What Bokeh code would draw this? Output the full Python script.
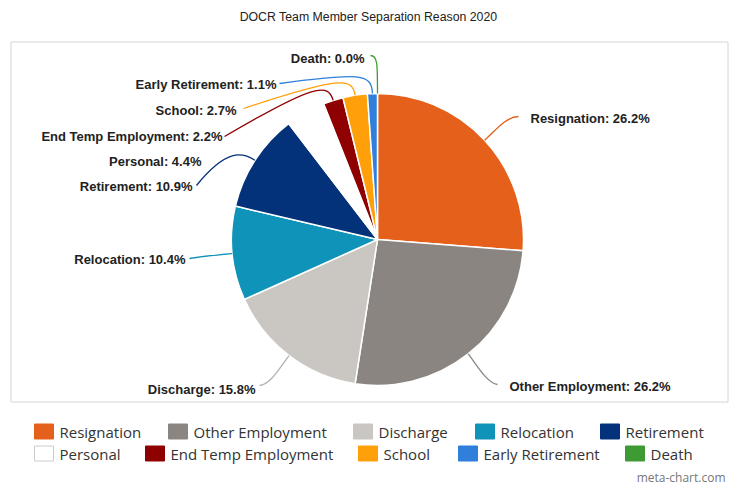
import math
from bokeh.plotting import figure
from bokeh.models import Range1d
from bokeh.core.properties import value
from bokeh.embed import file_html
from bokeh.resources import INLINE

# ---------------- data ----------------
TITLE = "DOCR Team Member Separation Reason 2020"
FOOTER = "meta-chart.com"
reasons = ["Resignation", "Other Employment", "Discharge", "Relocation", "Retirement",
           "Personal", "End Temp Employment", "School", "Early Retirement", "Death"]
percents = [26.2, 26.2, 15.8, 10.4, 10.9, 4.4, 2.2, 2.7, 1.1, 0.0]
colors = ["#e5601a", "#8a8581", "#cac6c1", "#1093b8", "#03327a",
          "#ffffff", "#8f0000", "#ffa00a", "#2f7fdb", "#3e9a32"]

# ---------------- layout (page pixel coords) ----------------
W, H = 734, 487


def Y(py):
    return H - py


CX, CY, R = 377, 239, 146

# label layout: (text x, text y, align, radial push, ctrl2, end point) ; None = no leader
label_layout = [
    (530, 118, "left", 15, (506, 116), (518, 116)),
    (509, 386, "left", 15, (486, 382), (497, 384)),
    (255, 389, "right", 15, (270, 384), (259, 385)),
    (185, 259, "right", 10, (200, 256), (189, 258)),
    (192, 186, "right", 15, (226, 148), (196, 185)),
    (201, 161, "right", None, None, None),
    (222, 136, "right", 18, (316, 82), (224, 136)),
    (236, 110, "right", 18, (340, 76), (243, 108)),
    (276, 84, "right", 20, (360, 72), (279, 83)),
    (364, 58, "right", 30, (377, 55), (370, 55)),
]
legend_x = [34, 168, 353, 475, 600, 34, 145, 358, 458, 625]
legend_y = [431, 453]

p = figure(width=W, height=H, x_range=Range1d(0, W), y_range=Range1d(0, H),
           output_backend="svg", toolbar_location=None,
           x_axis_type=None, y_axis_type=None, min_border=0)
p.grid.visible = False
p.outline_line_color = None
p.background_fill_color = "white"
p.border_fill_color = "white"

# title
p.text(x=[368], y=[Y(16)], text=[TITLE], text_align="center", text_baseline="middle",
       text_font=value("Liberation Sans"), text_font_size="12.3px", text_color="#222222")

# chart box
p.quad(left=[10.5], right=[727.5], top=[Y(41.5)], bottom=[Y(401.5)],
       fill_color=None, line_color="#d6d6d6", line_width=1)

# pie wedges
total = sum(percents)
cum = 0.0
starts, ends, mids = [], [], []
for v in percents:
    a0 = math.pi / 2 - 2 * math.pi * cum / total
    cum += v
    a1 = math.pi / 2 - 2 * math.pi * cum / total
    starts.append(a1)
    ends.append(a0)
    mids.append((a0 + a1) / 2)

for i, v in enumerate(percents):
    if v <= 0:
        continue
    p.wedge(x=[CX], y=[Y(CY)], radius=R, radius_units="screen",
            start_angle=[starts[i]], end_angle=[ends[i]], direction="anticlock",
            fill_color=colors[i], line_color="white", line_width=1.5)

# leaders and labels
for i, name in enumerate(reasons):
    tx, ty, align, push, c2, endp = label_layout[i]
    txt = f"{name}: {percents[i]:.1f}%"
    if push is not None:
        ux, uy = math.cos(mids[i]), math.sin(mids[i])
        ex, ey = CX + R * ux, Y(CY) + R * uy
        c1x, c1y = CX + (R + push) * ux, Y(CY) + (R + push) * uy
        lc = colors[i]
        if name == "Discharge":
            lc = "#b5b1ac"
        p.bezier(x0=[ex], y0=[ey], x1=[endp[0]], y1=[Y(endp[1])],
                 cx0=[c1x], cy0=[c1y], cx1=[c2[0]], cy1=[Y(c2[1])],
                 line_color=lc, line_width=1.3)
    p.text(x=[tx], y=[Y(ty)], text=[txt], text_align=align, text_baseline="middle",
           text_font=value("Liberation Sans"), text_font_style="bold",
           text_font_size="13px", text_color="#222222")

# legend
for i, name in enumerate(reasons):
    lx = legend_x[i]
    ly = legend_y[i // 5]
    p.rect(x=[lx + 9.5], y=[Y(ly)], width=19, height=15, width_units="screen",
           height_units="screen", fill_color=colors[i],
           line_color="#cccccc" if colors[i] == "#ffffff" else colors[i], line_width=1)
    p.text(x=[lx + 25], y=[Y(ly)], text=[name], text_align="left", text_baseline="middle",
           text_font=value("Open Sans"), text_font_size="15px", text_color="#333333")

# footer
p.text(x=[725], y=[Y(477)], text=[FOOTER], text_align="right", text_baseline="middle",
       text_font=value("Open Sans"), text_font_size="12px", text_color="#777777")

open("out.html", "w").write(file_html(p, INLINE))
